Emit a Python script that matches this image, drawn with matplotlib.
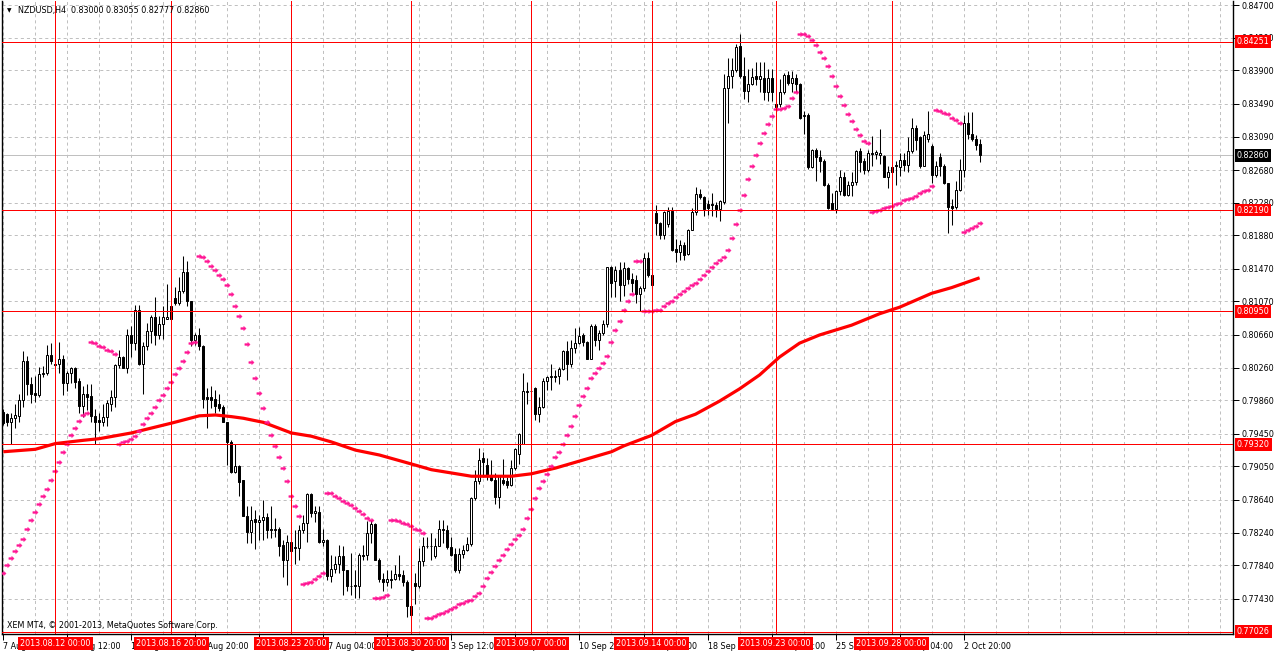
import matplotlib
matplotlib.use("Agg")
import matplotlib.pyplot as plt
import matplotlib.transforms as mtransforms
from matplotlib.path import Path
import numpy as np
import pandas as pd

# NZDUSD H4 candles, one value per bar
opens = [
    0.7972, 0.7969, 0.7960, 0.7964, 0.7967, 0.7986, 0.8034, 0.8006, 0.7995, 0.7992,
    0.8018, 0.8019, 0.8042, 0.8031, 0.8031, 0.8036, 0.8007, 0.8019, 0.8026, 0.8010,
    0.7979, 0.7994, 0.7991, 0.7967, 0.7962, 0.7960, 0.7965, 0.7982, 0.7990, 0.8029,
    0.8039, 0.8026, 0.8066, 0.8056, 0.8097, 0.8030, 0.8052, 0.8071, 0.8088, 0.8066,
    0.8079, 0.8086, 0.8101, 0.8111, 0.8105, 0.8120, 0.8143, 0.8107, 0.8060, 0.8066,
    0.8052, 0.7990, 0.7990, 0.7988, 0.7981, 0.7978, 0.7960, 0.7935, 0.7898, 0.7906,
    0.7888, 0.7844, 0.7825, 0.7841, 0.7837, 0.7839, 0.7843, 0.7828, 0.7827, 0.7829,
    0.7809, 0.7791, 0.7812, 0.7806, 0.7805, 0.7827, 0.7836, 0.7871, 0.7848, 0.7849,
    0.7812, 0.7815, 0.7771, 0.7780, 0.7786, 0.7795, 0.7778, 0.7759, 0.7760, 0.7759,
    0.7797, 0.7796, 0.7823, 0.7834, 0.7791, 0.7767, 0.7764, 0.7767, 0.7767, 0.7773,
    0.7772, 0.7764, 0.7734, 0.7762, 0.7758, 0.7789, 0.7808, 0.7808, 0.7795, 0.7808,
    0.7829, 0.7827, 0.7806, 0.7798, 0.7778, 0.7798, 0.7803, 0.7810, 0.7866, 0.7887,
    0.7915, 0.7907, 0.7895, 0.7889, 0.7868, 0.7889, 0.7887, 0.7882, 0.7903, 0.7920,
    0.7932, 0.7996, 0.7997, 0.8001, 0.7969, 0.7978, 0.8010, 0.8015, 0.8016, 0.8016,
    0.8024, 0.8046, 0.8030, 0.8050, 0.8056, 0.8066, 0.8058, 0.8037, 0.8077, 0.8060,
    0.8069, 0.8079, 0.8149, 0.8132, 0.8146, 0.8127, 0.8148, 0.8135, 0.8133, 0.8116,
    0.8123, 0.8160, 0.8140, 0.8215, 0.8203, 0.8189, 0.8202, 0.8218, 0.8171, 0.8168,
    0.8176, 0.8165, 0.8195, 0.8216, 0.8239, 0.8235, 0.8227, 0.8226, 0.8225, 0.8220,
    0.8229, 0.8369, 0.8383, 0.8390, 0.8420, 0.8383, 0.8365, 0.8373, 0.8383, 0.8380,
    0.8381, 0.8363, 0.8381, 0.8349, 0.8349, 0.8363, 0.8384, 0.8374, 0.8381, 0.8373,
    0.8334, 0.8336, 0.8272, 0.8293, 0.8284, 0.8279, 0.8250, 0.8228, 0.8220, 0.8242,
    0.8259, 0.8237, 0.8250, 0.8253, 0.8291, 0.8279, 0.8268, 0.8289, 0.8288, 0.8287,
    0.8285, 0.8259, 0.8272, 0.8274, 0.8272, 0.8280, 0.8274, 0.8291, 0.8320, 0.8308,
    0.8273, 0.8306, 0.8297, 0.8262, 0.8284, 0.8273, 0.8252, 0.8224, 0.8223, 0.8244,
    0.8268, 0.8325, 0.8312, 0.8306, 0.83000,
]
highs = [
    0.7975, 0.7971, 0.7970, 0.7982, 0.7994, 0.8046, 0.8040, 0.8015, 0.8016, 0.8027,
    0.8028, 0.8054, 0.8056, 0.8043, 0.8057, 0.8041, 0.8022, 0.8027, 0.8027, 0.8013,
    0.8003, 0.8006, 0.8006, 0.7975, 0.7971, 0.7982, 0.7986, 0.7999, 0.8031, 0.8048,
    0.8040, 0.8073, 0.8077, 0.8103, 0.8103, 0.8057, 0.8081, 0.8090, 0.8113, 0.8089,
    0.8101, 0.8128, 0.8103, 0.8125, 0.8137, 0.8163, 0.8156, 0.8108, 0.8068, 0.8074,
    0.8054, 0.8001, 0.8003, 0.7999, 0.7994, 0.7980, 0.7960, 0.7937, 0.7933, 0.7907,
    0.7889, 0.7857, 0.7856, 0.7852, 0.7846, 0.7864, 0.7848, 0.7857, 0.7842, 0.7831,
    0.7815, 0.7821, 0.7819, 0.7827, 0.7833, 0.7846, 0.7872, 0.7872, 0.7856, 0.7856,
    0.7829, 0.7816, 0.7797, 0.7795, 0.7809, 0.7807, 0.7778, 0.7799, 0.7778, 0.7799,
    0.7809, 0.7838, 0.7840, 0.7836, 0.7793, 0.7774, 0.7778, 0.7778, 0.7784, 0.7797,
    0.7778, 0.7766, 0.7736, 0.7774, 0.7805, 0.7819, 0.7819, 0.7823, 0.7817, 0.7840,
    0.7840, 0.7833, 0.7818, 0.7805, 0.7805, 0.7809, 0.7819, 0.7868, 0.7901, 0.7927,
    0.7923, 0.7915, 0.7913, 0.7897, 0.7895, 0.7914, 0.7892, 0.7913, 0.7927, 0.7946,
    0.8020, 0.8009, 0.8003, 0.8002, 0.7990, 0.8013, 0.8016, 0.8030, 0.8023, 0.8027,
    0.8048, 0.8059, 0.8060, 0.8074, 0.8076, 0.8068, 0.8059, 0.8079, 0.8079, 0.8072,
    0.8084, 0.8149, 0.8150, 0.8151, 0.8155, 0.8155, 0.8149, 0.8142, 0.8140, 0.8126,
    0.8166, 0.8168, 0.8142, 0.8225, 0.8204, 0.8218, 0.8223, 0.8223, 0.8183, 0.8182,
    0.8180, 0.8196, 0.8221, 0.8247, 0.8245, 0.8236, 0.8231, 0.8240, 0.8229, 0.8231,
    0.8385, 0.8405, 0.8405, 0.8422, 0.8435, 0.8406, 0.8392, 0.8393, 0.8400, 0.8400,
    0.8400, 0.8392, 0.8392, 0.8353, 0.8379, 0.8387, 0.8389, 0.8389, 0.8385, 0.8375,
    0.8340, 0.8338, 0.8294, 0.8295, 0.8293, 0.8281, 0.8252, 0.8240, 0.8244, 0.8268,
    0.8265, 0.8255, 0.8265, 0.8292, 0.8295, 0.8283, 0.8293, 0.8310, 0.8293, 0.8318,
    0.8287, 0.8273, 0.8273, 0.8279, 0.8289, 0.8289, 0.8308, 0.8332, 0.8323, 0.8310,
    0.8316, 0.8340, 0.8300, 0.8279, 0.8289, 0.8275, 0.8252, 0.8232, 0.8255, 0.8281,
    0.8336, 0.8339, 0.8339, 0.8311, 0.83055,
]
lows = [
    0.7956, 0.7954, 0.7932, 0.7952, 0.7959, 0.7978, 0.7992, 0.7983, 0.7984, 0.7990,
    0.8015, 0.8017, 0.8031, 0.8027, 0.8019, 0.7992, 0.7998, 0.8007, 0.8001, 0.7970,
    0.7965, 0.7974, 0.7960, 0.7933, 0.7948, 0.7955, 0.7954, 0.7973, 0.7978, 0.8025,
    0.8025, 0.8020, 0.8039, 0.8047, 0.8029, 0.7994, 0.8047, 0.8056, 0.8054, 0.8061,
    0.8061, 0.8085, 0.8085, 0.8103, 0.8103, 0.8117, 0.8101, 0.8052, 0.8054, 0.8047,
    0.7976, 0.7952, 0.7976, 0.7970, 0.7973, 0.7959, 0.7907, 0.7897, 0.7897, 0.7869,
    0.7844, 0.7811, 0.7811, 0.7804, 0.7815, 0.7815, 0.7817, 0.7817, 0.7819, 0.7795,
    0.7770, 0.7760, 0.7799, 0.7785, 0.7791, 0.7823, 0.7812, 0.7843, 0.7837, 0.7811,
    0.7807, 0.7766, 0.7764, 0.7774, 0.7774, 0.7748, 0.7752, 0.7748, 0.7744, 0.7744,
    0.7791, 0.7791, 0.7811, 0.7791, 0.7764, 0.7752, 0.7758, 0.7756, 0.7766, 0.7766,
    0.7758, 0.7721, 0.7721, 0.7736, 0.7756, 0.7783, 0.7805, 0.7791, 0.7793, 0.7807,
    0.7811, 0.7804, 0.7795, 0.7776, 0.7775, 0.7793, 0.7801, 0.7807, 0.7864, 0.7884,
    0.7892, 0.7889, 0.7887, 0.7859, 0.7854, 0.7882, 0.7878, 0.7881, 0.7901, 0.7908,
    0.7932, 0.7981, 0.7990, 0.7962, 0.7960, 0.7977, 0.7999, 0.7999, 0.8009, 0.8006,
    0.8023, 0.8011, 0.8027, 0.8044, 0.8055, 0.8053, 0.8037, 0.8036, 0.8052, 0.8048,
    0.8066, 0.8076, 0.8112, 0.8112, 0.8107, 0.8114, 0.8128, 0.8119, 0.8105, 0.8095,
    0.8120, 0.8137, 0.8123, 0.8188, 0.8183, 0.8183, 0.8198, 0.8169, 0.8155, 0.8158,
    0.8158, 0.8164, 0.8194, 0.8213, 0.8233, 0.8212, 0.8213, 0.8212, 0.8211, 0.8205,
    0.8227, 0.8325, 0.8369, 0.8388, 0.8381, 0.8355, 0.8351, 0.8372, 0.8372, 0.8363,
    0.8354, 0.8353, 0.8353, 0.8344, 0.8345, 0.8361, 0.8372, 0.8363, 0.8363, 0.8330,
    0.8312, 0.8269, 0.8271, 0.8255, 0.8265, 0.8249, 0.8220, 0.8219, 0.8215, 0.8238,
    0.8236, 0.8236, 0.8236, 0.8250, 0.8265, 0.8263, 0.8265, 0.8273, 0.8281, 0.8275,
    0.8259, 0.8246, 0.8264, 0.8250, 0.8261, 0.8267, 0.8265, 0.8289, 0.8293, 0.8271,
    0.8273, 0.8302, 0.8252, 0.8259, 0.8261, 0.8251, 0.8191, 0.8201, 0.8220, 0.8242,
    0.8259, 0.8306, 0.8304, 0.8293, 0.82777,
]
closes = [
    0.7958, 0.7960, 0.7964, 0.7968, 0.7986, 0.8034, 0.8006, 0.7994, 0.7992, 0.8018,
    0.8020, 0.8042, 0.8034, 0.8029, 0.8036, 0.8007, 0.8019, 0.8026, 0.8008, 0.7979,
    0.7994, 0.7990, 0.7967, 0.7960, 0.7960, 0.7965, 0.7983, 0.7990, 0.8029, 0.8039,
    0.8026, 0.8066, 0.8056, 0.8097, 0.8030, 0.8052, 0.8071, 0.8088, 0.8066, 0.8079,
    0.8088, 0.8088, 0.8086, 0.8105, 0.8120, 0.8143, 0.8107, 0.8060, 0.8066, 0.8052,
    0.7988, 0.7988, 0.7986, 0.7979, 0.7977, 0.7959, 0.7935, 0.7898, 0.7906, 0.7886,
    0.7844, 0.7825, 0.7840, 0.7837, 0.7840, 0.7843, 0.7827, 0.7827, 0.7829, 0.7808,
    0.7791, 0.7812, 0.7801, 0.7805, 0.7827, 0.7836, 0.7871, 0.7848, 0.7850, 0.7812,
    0.7815, 0.7771, 0.7780, 0.7786, 0.7795, 0.7778, 0.7758, 0.7758, 0.7758, 0.7796,
    0.7795, 0.7823, 0.7834, 0.7791, 0.7767, 0.7763, 0.7767, 0.7766, 0.7773, 0.7771,
    0.7764, 0.7734, 0.7723, 0.7758, 0.7789, 0.7807, 0.7807, 0.7807, 0.7808, 0.7829,
    0.7827, 0.7806, 0.7796, 0.7778, 0.7798, 0.7803, 0.7810, 0.7866, 0.7887, 0.7913,
    0.7911, 0.7895, 0.7889, 0.7868, 0.7894, 0.7885, 0.7882, 0.7903, 0.7926, 0.7945,
    0.7997, 0.7997, 0.7997, 0.7969, 0.7978, 0.8010, 0.8014, 0.8016, 0.8015, 0.8024,
    0.8046, 0.8030, 0.8050, 0.8056, 0.8065, 0.8057, 0.8037, 0.8077, 0.8060, 0.8069,
    0.8079, 0.8149, 0.8130, 0.8146, 0.8127, 0.8148, 0.8135, 0.8130, 0.8116, 0.8123,
    0.8160, 0.8140, 0.8127, 0.8203, 0.8188, 0.8217, 0.8218, 0.8170, 0.8168, 0.8176,
    0.8164, 0.8195, 0.8216, 0.8239, 0.8235, 0.8220, 0.8221, 0.8225, 0.8220, 0.8230,
    0.8369, 0.8383, 0.8390, 0.8419, 0.8383, 0.8365, 0.8373, 0.8382, 0.8380, 0.8383,
    0.8363, 0.8381, 0.8363, 0.8345, 0.8363, 0.8384, 0.8374, 0.8381, 0.8373, 0.8332,
    0.8336, 0.8272, 0.8293, 0.8284, 0.8279, 0.8250, 0.8222, 0.8220, 0.8242, 0.8259,
    0.8237, 0.8250, 0.8253, 0.8291, 0.8278, 0.8268, 0.8289, 0.8288, 0.8290, 0.8289,
    0.8259, 0.8266, 0.8265, 0.8273, 0.8280, 0.8274, 0.8291, 0.8320, 0.8305, 0.8273,
    0.8311, 0.8312, 0.8262, 0.8273, 0.8273, 0.8252, 0.8223, 0.8222, 0.8244, 0.8268,
    0.8325, 0.8312, 0.8306, 0.8299, 0.82860,
]

# Parabolic SAR, one dot per bar
sar = [
    0.7775, 0.7784, 0.7793, 0.7802, 0.7809, 0.7816, 0.7828, 0.7839, 0.7849, 0.7859,
    0.7869, 0.7877, 0.7888, 0.7899, 0.7910, 0.7923, 0.7933, 0.7944, 0.7952, 0.7961,
    0.7968, 0.7970, 0.8057, 0.8056, 0.8053, 0.8051, 0.8048, 0.8046, 0.8043, 0.7933,
    0.7935, 0.7936, 0.7939, 0.7942, 0.7949, 0.7957, 0.7964, 0.7971, 0.7978, 0.7986,
    0.7993, 0.8001, 0.8009, 0.8018, 0.8025, 0.8034, 0.8045, 0.8056, 0.8057, 0.8163,
    0.8161, 0.8157, 0.8151, 0.8145, 0.8139, 0.8134, 0.8127, 0.8116, 0.8102, 0.8089,
    0.8074, 0.8055, 0.8033, 0.8013, 0.7995, 0.7976, 0.7959, 0.7944, 0.7930, 0.7916,
    0.7903, 0.7887, 0.7869, 0.7856, 0.7844, 0.7761, 0.7762, 0.7763, 0.7767, 0.7771,
    0.7774, 0.7873, 0.7873, 0.7869, 0.7866, 0.7863, 0.7860, 0.7858, 0.7854, 0.7850,
    0.7847, 0.7842, 0.7839, 0.7744, 0.7744, 0.7745, 0.7747, 0.7840, 0.7840, 0.7838,
    0.7836, 0.7834, 0.7832, 0.7829, 0.7827, 0.7823, 0.7719, 0.7720, 0.7722, 0.7724,
    0.7726, 0.7728, 0.7730, 0.7733, 0.7736, 0.7738, 0.7740, 0.7742, 0.7746, 0.7750,
    0.7759, 0.7768, 0.7776, 0.7783, 0.7790, 0.7797, 0.7804, 0.7810, 0.7816, 0.7821,
    0.7828, 0.7842, 0.7853, 0.7866, 0.7878, 0.7887, 0.7896, 0.7906, 0.7917, 0.7923,
    0.7932, 0.7943, 0.7954, 0.7967, 0.7980, 0.7991, 0.8001, 0.8013, 0.8019, 0.8026,
    0.8032, 0.8040, 0.8057, 0.8072, 0.8083, 0.8096, 0.8107, 0.8116, 0.8156, 0.8156,
    0.8095, 0.8095, 0.8095, 0.8096, 0.8097, 0.8101, 0.8105, 0.8108, 0.8113, 0.8116,
    0.8120, 0.8123, 0.8127, 0.8130, 0.8135, 0.8140, 0.8144, 0.8149, 0.8154, 0.8158,
    0.8161, 0.8170, 0.8185, 0.8202, 0.8219, 0.8238, 0.8257, 0.8273, 0.8287, 0.8301,
    0.8313, 0.8324, 0.8334, 0.8343, 0.8343, 0.8344, 0.8347, 0.8356, 0.8363, 0.8435,
    0.8434, 0.8432, 0.8427, 0.8421, 0.8412, 0.8405, 0.8395, 0.8383, 0.8371, 0.8359,
    0.8348, 0.8337, 0.8328, 0.8318, 0.8311, 0.8304, 0.8301, 0.8216, 0.8218, 0.8219,
    0.8221, 0.8223, 0.8224, 0.8226, 0.8228, 0.8231, 0.8232, 0.8234, 0.8236, 0.8240,
    0.8242, 0.8244, 0.8249, 0.8341, 0.8340, 0.8338, 0.8337, 0.8332, 0.8329, 0.8325,
    0.8192, 0.8195, 0.8197, 0.8200, 0.8203,
]

# moving average, read at a number of bars
ma_bars = [0, 8, 13, 20, 24, 32, 42, 49, 53, 57, 60, 65, 72, 77, 82, 88, 94, 102,
           107, 112, 117, 123, 127, 132, 138, 145, 152, 155, 162, 168, 173, 179,
           184, 189, 194, 199, 204, 212, 219, 224, 232, 237, 244]
ma_vals = [0.7923, 0.7926, 0.7933, 0.7937, 0.7939, 0.7946, 0.7958, 0.7967, 0.7968,
           0.7966, 0.7964, 0.7959, 0.7946, 0.7942, 0.7935, 0.7925, 0.7919, 0.7908,
           0.7901, 0.7897, 0.7893, 0.7893, 0.7893, 0.7896, 0.7903, 0.7913, 0.7923,
           0.7930, 0.7943, 0.7960, 0.7969, 0.7985, 0.8000, 0.8017, 0.8039, 0.8056,
           0.8066, 0.8078, 0.8092, 0.8100, 0.8117, 0.8124, 0.8136]

price_levels = [0.84251, 0.82190, 0.80950, 0.79320, 0.77026]
last_price = 0.82860
marker_times = ['2013.08.12 00:00', '2013.08.16 20:00', '2013.08.23 20:00',
                '2013.08.30 20:00', '2013.09.07 00:00', '2013.09.14 00:00',
                '2013.09.23 00:00', '2013.09.28 00:00']
y_ticks = [0.84700, 0.84300, 0.83900, 0.83490, 0.83090, 0.82680, 0.82280, 0.81880,
           0.81470, 0.81070, 0.80660, 0.80260, 0.79860, 0.79450, 0.79050, 0.78640,
           0.78240, 0.77840, 0.77430]

# H4 bar times (weekdays only)
days = pd.bdate_range('2013-08-07', '2013-10-04')
times = pd.DatetimeIndex([d + pd.Timedelta(hours=h) for d in days for h in range(0, 24, 4)])
times = times[times >= pd.Timestamp('2013-08-07 20:00')][:len(closes)]
x = np.arange(len(closes))

W, H = 1276, 652
FS = 5.8
GRID = '#C0C0C0'
plt.rcParams['lines.scale_dashes'] = False

fig = plt.figure(figsize=(W / 100, H / 100), dpi=100)
ax = fig.add_axes([2 / W, 18 / H, 1231.3 / W, 633 / H])
ax.set_xlim(-0.325, 307.4)
ax.set_ylim(0.76998, 0.84750)

# dashed grid
for gx in np.arange(0, 308, 8):
    ax.axvline(gx, color=GRID, lw=0.72, ls=(0, (2.2, 2.2)), zorder=0)
for gy in y_ticks:
    ax.axhline(gy, color=GRID, lw=0.72, ls=(0, (2.2, 2.2)), zorder=0)

ax.axhline(last_price, color=GRID, lw=0.72, zorder=1)

# candles
o, h, l, c = map(np.array, (opens, highs, lows, closes))
ax.vlines(x, l, h, color='black', lw=0.75, zorder=2)
up = c >= o
ax.bar(x[up], c[up] - o[up], bottom=o[up], width=0.5, color='white',
       edgecolor='black', linewidth=0.72, zorder=3)
ax.bar(x[~up], o[~up] - c[~up], bottom=c[~up], width=0.5, color='black',
       edgecolor='black', linewidth=0.72, zorder=3)

# moving average and SAR
ax.plot(ma_bars, ma_vals, color='#FF0000', lw=2.3, zorder=4, solid_capstyle='butt')
arrow = Path([(-1, -0.35), (0.1, -0.35), (0.1, -0.8), (1, 0), (0.1, 0.8), (0.1, 0.35),
              (-1, 0.35), (-1, -0.35)],
             [Path.MOVETO] + [Path.LINETO] * 6 + [Path.CLOSEPOLY])
ax.plot(x, sar, ls='none', marker=arrow, ms=3.8, color='#FF1493', mec='#FF1493',
        mew=0.3, zorder=4)

# objects: horizontal and vertical lines
for v in price_levels:
    ax.axhline(v, color='#FF0000', lw=0.72, zorder=5)
marker_pos = [times.searchsorted(pd.Timestamp(s.replace('.', '-')), side='right') - 1
              for s in marker_times]
for p in marker_pos:
    ax.axvline(p, color='#FF0000', lw=0.72, zorder=5)

# axes look
for side in ['top']:
    ax.spines[side].set_visible(False)
for side in ['left', 'bottom', 'right']:
    ax.spines[side].set_linewidth(1.0)
    ax.spines[side].set_color('black')

ax.yaxis.tick_right()
ax.set_yticks(y_ticks, [f"{v:.5f}" for v in y_ticks])
ax.tick_params(axis='y', length=4, width=0.72, pad=2, labelsize=FS)

tick_pos = np.arange(0, len(times), 16)
tick_lab = [f"{t.day} {t:%b %H:%M}" for t in times[tick_pos]]
tick_lab[0] = f"{times[0].day} {times[0]:%b %Y}"
ax.set_xticks(tick_pos, tick_lab)
ax.tick_params(axis='x', length=4, width=0.72, pad=1.5, labelsize=FS)
for lab in ax.get_xticklabels():
    lab.set_horizontalalignment('left')

# price labels on the right axis
ytrans = mtransforms.blended_transform_factory(ax.transAxes, ax.transData)
ytrans = mtransforms.offset_copy(ytrans, fig=fig, x=3.6, y=0, units='dots')
for v in price_levels:
    ax.text(1.0, v, f"{v:.5f}", transform=ytrans, ha='left', va='center', color='white',
            fontsize=FS, clip_on=False, zorder=10,
            bbox=dict(boxstyle='square,pad=0.22', fc='#FF0000', ec='none'))
ax.text(1.0, last_price, f"{last_price:.5f}", transform=ytrans, ha='left', va='center',
        color='white', fontsize=FS, clip_on=False, zorder=10,
        bbox=dict(boxstyle='square,pad=0.22', fc='black', ec='none'))

# time labels under the vertical lines
xtrans = mtransforms.blended_transform_factory(ax.transData, ax.transAxes)
xtrans = mtransforms.offset_copy(xtrans, fig=fig, x=0, y=-9.5, units='dots')
for p, s in zip(marker_pos, marker_times):
    ax.text(p, 0, s, transform=xtrans, ha='center', va='center', color='white',
            fontsize=FS, clip_on=False, zorder=10,
            bbox=dict(boxstyle='square,pad=0.25', fc='#FF0000', ec='none'))

# header and copyright
fig.text(7 / W, 1 - 10.5 / H, '\u25bc', fontsize=4.2, va='center', ha='left')
fig.text(18 / W, 1 - 10.5 / H, 'NZDUSD,H4  0.83000 0.83055 0.82777 0.82860',
         fontsize=FS, va='center', ha='left', color='black')
fig.text(7 / W, 1 - 626 / H, 'XEM MT4, \u00a9 2001-2013, MetaQuotes Software Corp.',
         fontsize=FS, va='center', ha='left', color='black')

fig.savefig('out.png', dpi=100)
